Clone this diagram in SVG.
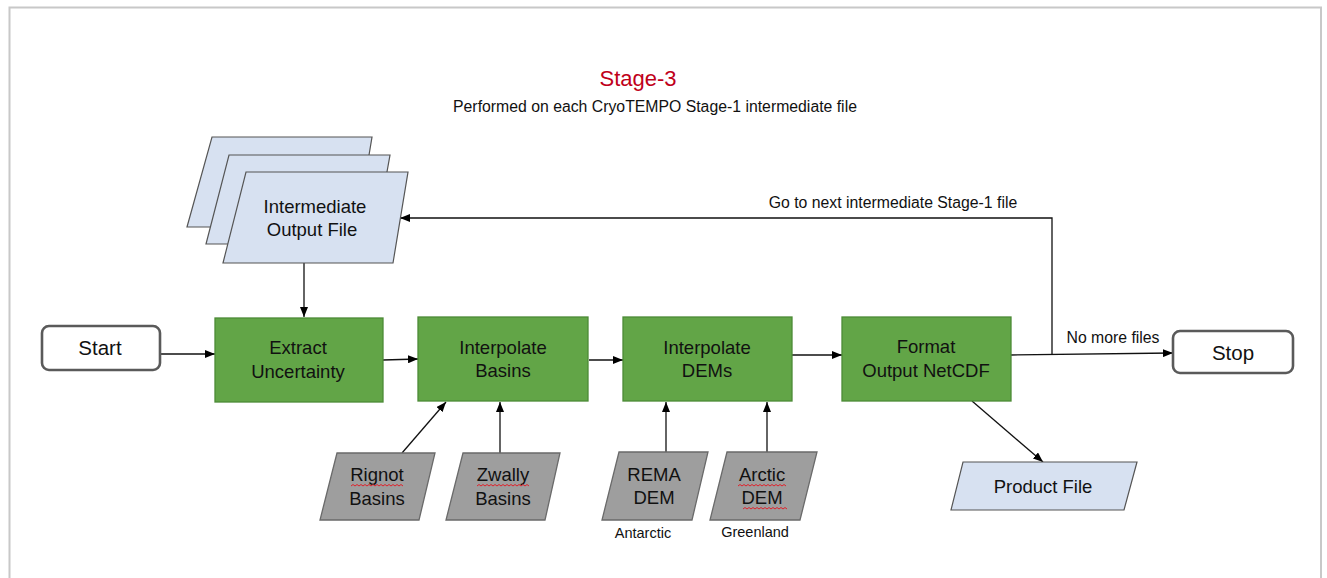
<svg xmlns="http://www.w3.org/2000/svg" width="1327" height="578" viewBox="0 0 1327 578">
<defs>
<marker id="ah" markerWidth="10" markerHeight="8" refX="10" refY="4" orient="auto" markerUnits="userSpaceOnUse">
<path d="M0,0 L10,4 L0,8 Z" fill="#000"/>
</marker>
</defs>
<style>
text{font-family:"Liberation Sans",Arial,sans-serif;fill:#111;text-anchor:middle}
.proc{fill:#62a547;stroke:#4c8a36;stroke-width:1.3}
.file{fill:#d7e1f1;stroke:#555;stroke-width:1.2}
.data{fill:#9e9e9e;stroke:#6a6a6a;stroke-width:1.3}
.term{fill:#fff;stroke:#5a5a5a;stroke-width:2.6}
.t18{font-size:18.5px}
.t20{font-size:20.5px}
.lbl{font-size:15.8px}
.sm{font-size:14.5px}
.conn{stroke:#111;stroke-width:1.3;fill:none}
.sq{stroke:#e0202a;stroke-width:1;fill:none}
</style>
<rect x="9.5" y="7.5" width="1311.5" height="620" fill="#fff" stroke="#c8c8c8" stroke-width="2"/>

<g id="title">
<text x="638" y="86" style="font-size:22px;fill:#c0001a">Stage-3</text>
<text x="655" y="112" class="lbl">Performed on each CryoTEMPO Stage-1 intermediate file</text>
</g>

<g id="connectors">
<path class="conn" d="M304,263 L304,317" marker-end="url(#ah)"/>
<path class="conn" d="M160,354 L215,354" marker-end="url(#ah)"/>
<path class="conn" d="M383,360 L418,359" marker-end="url(#ah)"/>
<path class="conn" d="M589,360 L623,360" marker-end="url(#ah)"/>
<path class="conn" d="M792,355 L842,355" marker-end="url(#ah)"/>
<path class="conn" d="M1011,355 L1173,353" marker-end="url(#ah)"/>
<path class="conn" d="M1052,354 L1052,218 L400,218" marker-end="url(#ah)"/>
<path class="conn" d="M402,453 L446,402" marker-end="url(#ah)"/>
<path class="conn" d="M500,453 L500,402" marker-end="url(#ah)"/>
<path class="conn" d="M666,452 L666,402" marker-end="url(#ah)"/>
<path class="conn" d="M767,452 L767,402" marker-end="url(#ah)"/>
<path class="conn" d="M972,401 L1043,462" marker-end="url(#ah)"/>
<text x="893" y="208" class="lbl">Go to next intermediate Stage-1 file</text>
<text x="1113" y="343" class="lbl">No more files</text>
</g>

<g id="intermediate">
<polygon class="file" points="212,137 372,137 357,227 187,227"/>
<polygon class="file" points="229,155 390,155 374,244 206,244"/>
<polygon class="file" points="246,172 408,172 393,263 223,263"/>
<text x="315" y="213" class="t18">Intermediate</text>
<text x="312" y="236" class="t18">Output File</text>
</g>

<g id="start">
<rect class="term" x="42" y="326" width="118" height="44" rx="7"/>
<text x="100" y="355" class="t20">Start</text>
</g>

<g id="extract">
<rect class="proc" x="215" y="318" width="168" height="84"/>
<text x="298" y="354" class="t18">Extract</text>
<text x="298" y="378" class="t18">Uncertainty</text>
</g>

<g id="interp-basins">
<rect class="proc" x="418" y="317" width="170" height="84"/>
<text x="503" y="354" class="t18">Interpolate</text>
<text x="503" y="377" class="t18">Basins</text>
</g>

<g id="interp-dems">
<rect class="proc" x="623" y="317" width="169" height="84"/>
<text x="707" y="354" class="t18">Interpolate</text>
<text x="707" y="377" class="t18">DEMs</text>
</g>

<g id="format">
<rect class="proc" x="842" y="317" width="169" height="84"/>
<text x="926" y="353" class="t18">Format</text>
<text x="926" y="377" class="t18">Output NetCDF</text>
</g>

<g id="stop">
<rect class="term" x="1173" y="331" width="120" height="42" rx="7"/>
<text x="1233" y="360" class="t20">Stop</text>
</g>

<g id="rignot">
<polygon class="data" points="337,453 435,453 419,520 320,520"/>
<text x="377" y="481" class="t18">Rignot</text>
<text x="377" y="505" class="t18">Basins</text>
<path class="sq" d="M351,486 l2,-1.5 l2,1.5 l2,-1.5 l2,1.5 l2,-1.5 l2,1.5 l2,-1.5 l2,1.5 l2,-1.5 l2,1.5 l2,-1.5 l2,1.5 l2,-1.5 l2,1.5 l2,-1.5 l2,1.5 l2,-1.5 l2,1.5 l2,-1.5 l2,1.5 l2,-1.5 l2,1.5 l2,-1.5 l2,1.5 l2,-1.5 l2,1.5"/>
</g>

<g id="zwally">
<polygon class="data" points="463,453 560,453 545,520 446,520"/>
<text x="503" y="481" class="t18">Zwally</text>
<text x="503" y="505" class="t18">Basins</text>
<path class="sq" d="M477,486 l2,-1.5 l2,1.5 l2,-1.5 l2,1.5 l2,-1.5 l2,1.5 l2,-1.5 l2,1.5 l2,-1.5 l2,1.5 l2,-1.5 l2,1.5 l2,-1.5 l2,1.5 l2,-1.5 l2,1.5 l2,-1.5 l2,1.5 l2,-1.5 l2,1.5 l2,-1.5 l2,1.5 l2,-1.5 l2,1.5 l2,-1.5 l2,1.5"/>
</g>

<g id="rema">
<polygon class="data" points="619,452 708,452 692,520 602,520"/>
<text x="654" y="481" class="t18">REMA</text>
<text x="654" y="504" class="t18">DEM</text>
<text x="643" y="538" class="sm">Antarctic</text>
</g>

<g id="arctic">
<polygon class="data" points="727,452 817,452 800,520 710,520"/>
<text x="762" y="481" class="t18">Arctic</text>
<text x="762" y="504" class="t18">DEM</text>
<path class="sq" d="M738,486 l2,-1.5 l2,1.5 l2,-1.5 l2,1.5 l2,-1.5 l2,1.5 l2,-1.5 l2,1.5 l2,-1.5 l2,1.5 l2,-1.5 l2,1.5 l2,-1.5 l2,1.5 l2,-1.5 l2,1.5 l2,-1.5 l2,1.5 l2,-1.5 l2,1.5 l2,-1.5 l2,1.5 l2,-1.5 l2,1.5"/>
<path class="sq" d="M743,509 l2,-1.5 l2,1.5 l2,-1.5 l2,1.5 l2,-1.5 l2,1.5 l2,-1.5 l2,1.5 l2,-1.5 l2,1.5 l2,-1.5 l2,1.5 l2,-1.5 l2,1.5 l2,-1.5 l2,1.5 l2,-1.5 l2,1.5 l2,-1.5 l2,1.5 l2,-1.5 l2,1.5"/>
<text x="755" y="537" class="sm">Greenland</text>
</g>

<g id="product">
<polygon class="file" points="963,462 1137,462 1124,510 951,510"/>
<text x="1043" y="493" class="t18">Product File</text>
</g>
</svg>
